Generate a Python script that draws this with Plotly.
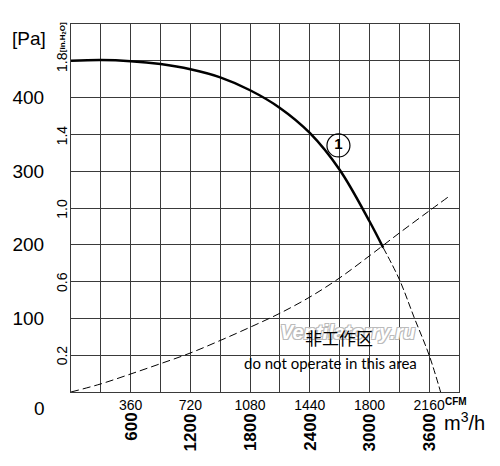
import plotly.graph_objects as go

# ---- data ----
perf_cfm = [0, 180, 360, 540, 720, 900, 1080, 1260, 1440, 1620, 1800, 1883]
perf_pa = [450, 451, 449.5, 445.5, 438.5, 427.5, 410, 386, 352, 302, 232, 196]

ext_cfm = [1883, 1980, 2070, 2160, 2229]
ext_pa = [196, 153, 101, 50, 0]

sys_cfm = [0, 180, 360, 540, 720, 900, 1080, 1260, 1440, 1620, 1800, 1980, 2160, 2275]
sys_pa = [0, 11, 24.5, 38.5, 53, 70, 88, 107, 129, 155, 185, 216, 246, 265]

cfm_ticks = [360, 720, 1080, 1440, 1800, 2160]
m3h_ticks = [600, 1200, 1800, 2400, 3000, 3600]
pa_ticks = [100, 200, 300, 400]
inh2o_ticks = [0.2, 0.6, 1.0, 1.4, 1.8]

curve_label = "1"
curve_label_pos = (1613, 335)

SANS = "Liberation Sans, Arial, sans-serif"
TEXT = "Lato, Liberation Sans, sans-serif"
PA_PER_INH2O = 249.09
CFM_PER_M3H = 0.6  # label spacing used on the chart's m3/h scale
GRID = "#3a3a3a"

fig = go.Figure()

fig.add_trace(go.Scatter(x=sys_cfm, y=sys_pa, mode="lines",
                         line=dict(color="black", width=1, dash="8px,4px", shape="spline"),
                         hoverinfo="skip", showlegend=False))
fig.add_trace(go.Scatter(x=ext_cfm, y=ext_pa, mode="lines",
                         line=dict(color="black", width=1, dash="7px,3px", shape="spline"),
                         hoverinfo="skip", showlegend=False))
fig.add_trace(go.Scatter(x=perf_cfm, y=perf_pa, mode="lines",
                         line=dict(color="black", width=2.5, shape="spline"),
                         hoverinfo="skip", showlegend=False))
fig.add_trace(go.Scatter(x=[curve_label_pos[0]], y=[curve_label_pos[1]],
                         mode="markers+text", text=["<b>" + curve_label + "</b>"],
                         textposition="middle center",
                         textfont=dict(family=SANS, size=15, color="black"),
                         marker=dict(symbol="circle-open", size=23,
                                     color="black", line=dict(width=1.2)),
                         hoverinfo="skip", showlegend=False))

ann = []
# m3/h labels (rotated)
for v in m3h_ticks:
    ann.append(dict(x=v * CFM_PER_M3H, xref="x", y=0, yref="paper",
                    text="<b>" + str(v) + "</b>", showarrow=False, textangle=-90,
                    xanchor="center", yanchor="top", yshift=-19,
                    font=dict(family=SANS, size=17, color="black")))
ann.append(dict(x=2340, xref="x", y=0, yref="paper", text="m<sup>3</sup>/h",
                showarrow=False, xanchor="left", yanchor="middle",
                xshift=-17, yshift=-29,
                font=dict(family=SANS, size=20, color="black")))
ann.append(dict(x=2340, xref="x", y=0, yref="paper", text="<b>CFM</b>",
                showarrow=False, xanchor="left", yanchor="middle",
                xshift=-16, yshift=-9,
                font=dict(family=SANS, size=10, color="black")))
# in.H2O labels (rotated)
for v in inh2o_ticks:
    ann.append(dict(x=0, xref="x", y=v * PA_PER_INH2O, yref="y",
                    text=f"{v:.1f}", showarrow=False, textangle=-90,
                    xanchor="center", yanchor="middle", xshift=-9,
                    font=dict(family=SANS, size=14, color="black")))
ann.append(dict(x=0, xref="x", y=482, yref="y", text="<b>[in.H<sub>2</sub>O]</b>",
                showarrow=False, textangle=-90, xanchor="center",
                yanchor="middle", xshift=-8,
                font=dict(family=SANS, size=8, color="black")))
ann.append(dict(x=0, xref="x", y=480, yref="y", text="[Pa]",
                showarrow=False, xanchor="right", yanchor="middle",
                xshift=-23, font=dict(family=SANS, size=19, color="black")))
ann.append(dict(x=0, xref="x", y=0, yref="y", text="0",
                showarrow=False, xanchor="right", yanchor="middle",
                xshift=-24, yshift=-16,
                font=dict(family=SANS, size=19, color="black")))
# watermark + area notes
ann.append(dict(x=1667, y=82, xref="x", yref="y", text="<b>Ventilatorry.ru</b>",
                showarrow=False,
                font=dict(family=SANS, size=20,
                          color="white", style="italic",
                          shadow="-1px -1px 0 #bbb, 1px -1px 0 #bbb, -1px 1px 0 #bbb, 1px 1px 0 #bbb")))
ann.append(dict(x=1616, y=74.5, xref="x", yref="y", text="非工作区",
                showarrow=False,
                font=dict(family="Noto Sans CJK SC", size=17, color="black")))
ann.append(dict(x=1562, y=40, xref="x", yref="y", text="do not operate in this area",
                showarrow=False,
                font=dict(family=TEXT, size=15, color="black")))

fig.update_layout(
    width=500, height=466,
    margin=dict(l=71, r=41, t=24, b=74),
    paper_bgcolor="white", plot_bgcolor="white",
    annotations=ann,
    xaxis=dict(range=[0, 2340], showgrid=True, automargin=False,
               gridcolor=GRID, gridwidth=1, zeroline=False,
               showline=True, linecolor=GRID, linewidth=1, mirror=True,
               tickmode="array", tickvals=cfm_ticks,
               ticktext=[str(v) for v in cfm_ticks], ticks="",
               tickfont=dict(family=SANS, size=14, color="black"),
               minor=dict(tick0=0, dtick=180, showgrid=True,
                          gridcolor=GRID, gridwidth=1),
               fixedrange=True),
    yaxis=dict(range=[0, 500], showgrid=True, gridcolor=GRID, automargin=False,
               gridwidth=1, zeroline=False, showline=True,
               linecolor=GRID, linewidth=1, mirror=True,
               tickmode="array", tickvals=pa_ticks,
               ticktext=[str(v) for v in pa_ticks], ticks="",
               ticklabelstandoff=22,
               tickfont=dict(family=SANS, size=19, color="black"),
               minor=dict(tick0=0, dtick=50, showgrid=True,
                          gridcolor=GRID, gridwidth=1),
               fixedrange=True),
)

fig.write_html("out.html", config={"displayModeBar": False},
               post_script="document.body.style.margin='0px';")
